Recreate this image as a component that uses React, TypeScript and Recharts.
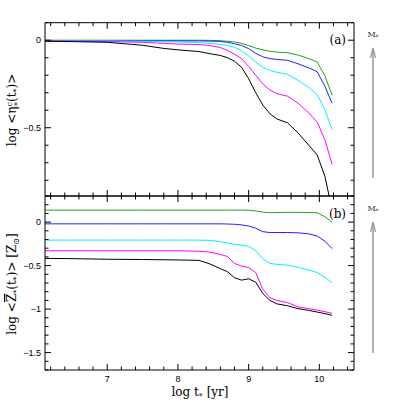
import React from 'react';
import { LineChart, Line, XAxis, YAxis } from 'recharts';

// log t* grid shared by every curve
const tGrid = [6.12, 6.5, 7.0, 7.5, 7.8, 8.0, 8.3, 8.45, 8.6, 8.7, 8.8, 8.9, 9.0, 9.1, 9.2, 9.3, 9.4, 9.55, 9.7, 9.85, 9.97, 10.08, 10.18];

// panel (a): log <eta*c(t*)>
const etaGreen = [0, 0, 0, 0, 0, 0, 0, -0.001, -0.003, -0.006, -0.01, -0.018, -0.03, -0.045, -0.055, -0.063, -0.068, -0.072, -0.085, -0.105, -0.125, -0.205, -0.315];
const etaBlue = [-0.002, -0.002, -0.003, -0.003, -0.004, -0.004, -0.004, -0.005, -0.007, -0.012, -0.02, -0.03, -0.048, -0.075, -0.095, -0.105, -0.11, -0.115, -0.135, -0.158, -0.18, -0.265, -0.36];
const etaCyan = [-0.003, -0.003, -0.004, -0.006, -0.008, -0.01, -0.014, -0.018, -0.024, -0.03, -0.04, -0.06, -0.09, -0.125, -0.155, -0.172, -0.183, -0.195, -0.23, -0.27, -0.31, -0.4, -0.51];
const etaMagenta = [-0.004, -0.005, -0.008, -0.012, -0.018, -0.022, -0.025, -0.03, -0.042, -0.058, -0.08, -0.105, -0.15, -0.2, -0.25, -0.285, -0.305, -0.32, -0.36, -0.415, -0.468, -0.57, -0.71];
const etaBlack = [-0.006, -0.008, -0.012, -0.029, -0.047, -0.055, -0.065, -0.077, -0.087, -0.1, -0.12, -0.155, -0.22, -0.3, -0.37, -0.42, -0.45, -0.472, -0.53, -0.6, -0.656, -0.78, -0.97];

// panel (b): log <Z*(t*)> [Zsun]
const zGreen = [0.138, 0.138, 0.138, 0.138, 0.138, 0.138, 0.138, 0.138, 0.138, 0.138, 0.138, 0.138, 0.136, 0.128, 0.115, 0.108, 0.11, 0.112, 0.112, 0.11, 0.108, 0.06, 0.0];
const zBlue = [-0.02, -0.02, -0.02, -0.02, -0.02, -0.02, -0.02, -0.02, -0.02, -0.022, -0.025, -0.032, -0.045, -0.07, -0.11, -0.12, -0.12, -0.12, -0.123, -0.135, -0.16, -0.22, -0.305];
const zCyan = [-0.207, -0.207, -0.207, -0.207, -0.207, -0.207, -0.207, -0.21, -0.225, -0.24, -0.255, -0.265, -0.28, -0.33, -0.42, -0.475, -0.485, -0.495, -0.52, -0.55, -0.58, -0.635, -0.697];
const zMagenta = [-0.329, -0.329, -0.33, -0.33, -0.33, -0.33, -0.335, -0.345, -0.372, -0.395, -0.475, -0.506, -0.522, -0.58, -0.77, -0.87, -0.9, -0.925, -0.975, -0.995, -1.012, -1.03, -1.049];
const zBlack = [-0.417, -0.42, -0.427, -0.43, -0.433, -0.435, -0.44, -0.48, -0.535, -0.57, -0.64, -0.667, -0.652, -0.69, -0.82, -0.9, -0.94, -0.962, -0.995, -1.015, -1.034, -1.052, -1.072];

// ticks
const xTicks = [6.2, 6.4, 6.6, 6.8, 7, 7.2, 7.4, 7.6, 7.8, 8, 8.2, 8.4, 8.6, 8.8, 9, 9.2, 9.4, 9.6, 9.8, 10, 10.2, 10.4];
const etaTicks = [0.1, 0, -0.1, -0.2, -0.3, -0.4, -0.5, -0.6, -0.7, -0.8];
const zTicks = [0.3, 0.2, 0.1, 0, -0.1, -0.2, -0.3, -0.4, -0.5, -0.6, -0.7, -0.8, -0.9, -1, -1.1, -1.2, -1.3, -1.4, -1.5, -1.6, -1.7];

const seriesColors = { green: '#22a022', blue: '#2020ff', cyan: '#00f0ff', magenta: '#ff00ff', black: '#000000' };

const etaData = tGrid.map((t, i) => ({ t, green: etaGreen[i], blue: etaBlue[i], cyan: etaCyan[i], magenta: etaMagenta[i], black: etaBlack[i] }));
const zData = tGrid.map((t, i) => ({ t, green: zGreen[i], blue: zBlue[i], cyan: zCyan[i], magenta: zMagenta[i], black: zBlack[i] }));

const X_DOMAIN: [number, number] = [6.12, 10.49];
const LABEL_FONT = '"Liberation Sans", Arial, sans-serif';
const TITLE_FONT = '"DejaVu Serif", "Liberation Serif", serif';

const fmtNum = (v: number) => (v < 0 ? '\u2212' + String(Math.abs(v)) : String(v));

// inward ticks on every side, labels only where asked
const makeTick = (side: 'top' | 'bottom' | 'left' | 'right', majorStep: number, showLabel: boolean) => (props: any) => {
  const { x, y, payload } = props;
  const v = payload.value;
  const r = v / majorStep;
  const major = Math.abs(r - Math.round(r)) < 1e-6;
  const len = major ? 6 : 3.5;
  let x2 = x, y2 = y;
  if (side === 'bottom') y2 = y - len;
  if (side === 'top') y2 = y + len;
  if (side === 'left') x2 = x + len;
  if (side === 'right') x2 = x - len;
  return (
    <g>
      <path d={`M${x},${y}L${x2},${y2}`} stroke="#000" strokeWidth={1} fill="none" />
      {showLabel && major && side === 'bottom' && (
        <text x={x} y={y + 12} textAnchor="middle" fontSize={9} fontFamily={LABEL_FONT} fill="#000">{fmtNum(v)}</text>
      )}
      {showLabel && major && side === 'left' && (
        <text x={x - 4} y={y + 3} textAnchor="end" fontSize={9} fontFamily={LABEL_FONT} fill="#000">{fmtNum(v)}</text>
      )}
    </g>
  );
};

const renderLines = () =>
  (Object.keys(seriesColors) as (keyof typeof seriesColors)[]).map((k) => (
    <Line key={k} type="linear" dataKey={k} stroke={seriesColors[k]} strokeWidth={1} dot={false} isAnimationActive={false} />
  ));

const Panel = ({ data, yDomain, yTicks, top, bottomHeight, bottomMargin, xLabels }: any) => (
  <LineChart width={415} height={415} data={data} margin={{ top, right: 60, bottom: bottomMargin, left: 0 }}>
    <XAxis type="number" dataKey="t" domain={X_DOMAIN} allowDataOverflow ticks={xTicks} interval={0}
      height={bottomHeight} tickSize={0} tickMargin={0} tickLine={false} stroke="#000"
      tick={makeTick('bottom', 1, xLabels)} />
    <XAxis xAxisId="top" orientation="top" type="number" dataKey="t" domain={X_DOMAIN} allowDataOverflow ticks={xTicks} interval={0}
      height={1} tickSize={0} tickMargin={0} tickLine={false} stroke="#000" tick={makeTick('top', 1, false)} />
    <YAxis type="number" domain={yDomain} allowDataOverflow ticks={yTicks} interval={0} width={45}
      tickSize={0} tickMargin={0} tickLine={false} stroke="#000" tick={makeTick('left', 0.5, true)} />
    <YAxis yAxisId="right" orientation="right" type="number" domain={yDomain} allowDataOverflow ticks={yTicks} interval={0} width={1}
      tickSize={0} tickMargin={0} tickLine={false} stroke="#000" tick={makeTick('right', 0.5, false)} />
    {renderLines()}
  </LineChart>
);

const Arrow = ({ x, y1, y2, label }: { x: number; y1: number; y2: number; label: string }) => (
  <g>
    <line x1={x} y1={y1} x2={x} y2={y2} stroke="#999" strokeWidth={1.5} />
    <polyline points={`${x - 2.5},${y2 + 9} ${x},${y2 - 1} ${x + 2.5},${y2 + 9}`} fill="none" stroke="#999" strokeWidth={1.2} />
    <text x={x} y={y2 - 12} textAnchor="middle" fontSize={8} fontFamily={TITLE_FONT} fill="#333">
      {label}<tspan fontSize={6} dy={2}>*</tspan>
    </text>
  </g>
);

export default function App() {
  const layer: React.CSSProperties = { position: 'absolute', left: 0, top: 0 };
  return (
    <div style={{ position: 'fixed', left: 0, top: 0, width: 415, height: 415, background: '#fff' }}>
      <div style={layer}>
        <Panel data={etaData} yDomain={[-0.89, 0.1]} yTicks={etaTicks} top={21.7} bottomHeight={1} bottomMargin={218} xLabels={false} />
      </div>
      <div style={layer}>
        <Panel data={zData} yDomain={[-1.7, 0.3]} yTicks={zTicks} top={195} bottomHeight={45} bottomMargin={0} xLabels={true} />
      </div>
      <svg width={415} height={415} style={{ ...layer, pointerEvents: 'none' }}>
        <text x={346} y={44} textAnchor="end" fontSize={12} fontFamily={TITLE_FONT}>(a)</text>
        <text x={346} y={218} textAnchor="end" fontSize={12} fontFamily={TITLE_FONT}>(b)</text>
        <text x={200} y={396} textAnchor="middle" fontSize={12} fontFamily={TITLE_FONT}>
          log t<tspan fontSize={8} dy={3}>*</tspan><tspan dy={-3}> [yr]</tspan>
        </text>
        <text transform="translate(16,110) rotate(-90)" textAnchor="middle" fontSize={12} fontFamily={TITLE_FONT}>
          log &lt;η<tspan fontSize={8} dy={-4}>c</tspan><tspan fontSize={8} dx={-4} dy={8}>*</tspan><tspan dy={-4}>(t</tspan><tspan fontSize={8} dy={3}>*</tspan><tspan dy={-3}>)&gt;</tspan>
        </text>
        <text transform="translate(16,284) rotate(-90)" textAnchor="middle" fontSize={12} fontFamily={TITLE_FONT}>
          log &lt;<tspan textDecoration="overline">Z</tspan><tspan fontSize={8} dy={3}>*</tspan><tspan dy={-3}>(t</tspan><tspan fontSize={8} dy={3}>*</tspan><tspan dy={-3}>)&gt; [Z</tspan><tspan fontSize={8} dy={3}>⊙</tspan><tspan dy={-3}>]</tspan>
        </text>
        <Arrow x={373} y1={178} y2={49} label="M" />
        <Arrow x={373} y1={353} y2={223} label="M" />
      </svg>
    </div>
  );
}
